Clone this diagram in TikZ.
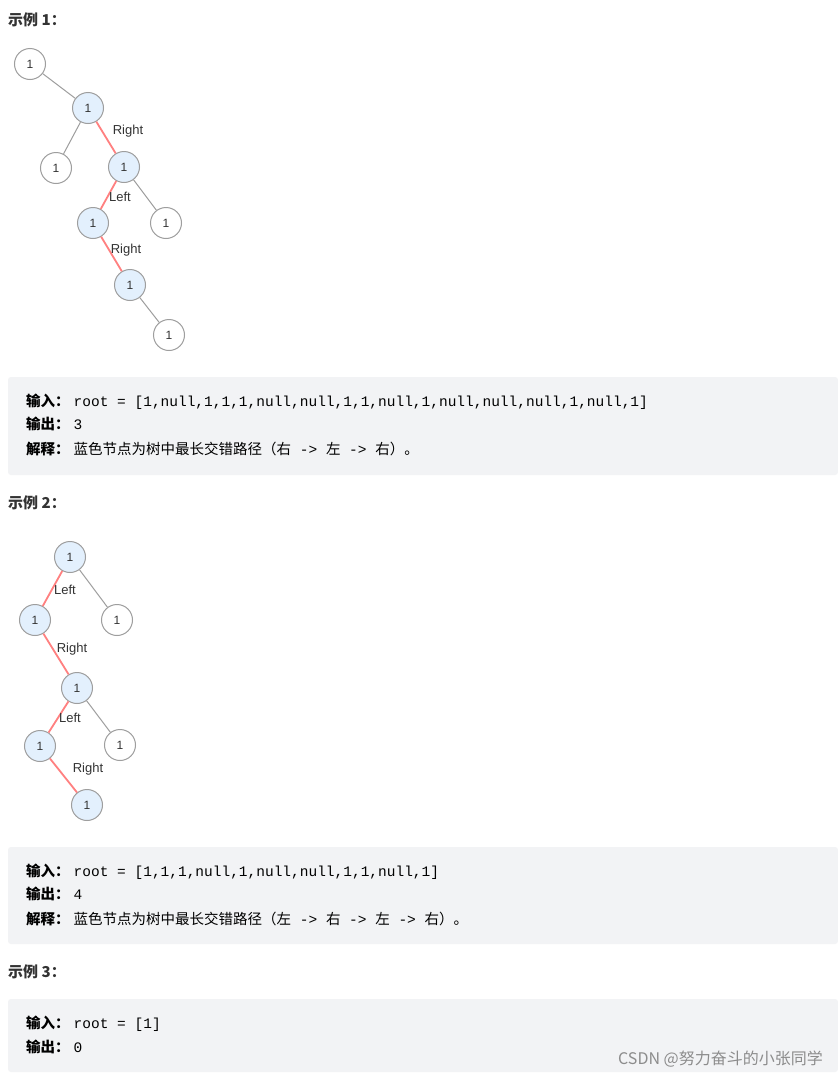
\documentclass[tikz,border=0pt]{standalone}
\usepackage{fontspec}
\setmainfont{Liberation Sans}
\newfontfamily\cjk{Noto Sans CJK SC}
\newfontfamily\mono{Liberation Mono}
\definecolor{nodeblue}{HTML}{E3F0FD}
\definecolor{nodeline}{HTML}{9E9E9E}
\definecolor{redge}{HTML}{FF8080}
\definecolor{boxbg}{HTML}{F2F3F5}
\definecolor{txt}{HTML}{333333}
\newcommand{\lbl}[1]{{\cjk\bfseries #1}\hspace{4pt}}
\begin{document}
\begin{tikzpicture}[x=1pt,y=-1pt,
  tn/.style={circle,draw=nodeline,line width=1pt,minimum size=31pt,inner sep=0pt,fill=white,font=\fontsize{12}{12}\selectfont,text=txt},
  bn/.style={tn,fill=nodeblue},
  ge/.style={draw=nodeline,line width=1pt},
  re/.style={draw=redge,line width=1.8pt},
  el/.style={font=\fontsize{13}{13}\selectfont,text=txt,inner sep=0pt},
  head/.style={anchor=base west,inner sep=0pt,font=\cjk\bfseries\fontsize{15}{15}\selectfont,text=txt},
  line/.style={anchor=base west,inner sep=0pt,font=\fontsize{14.5}{14.5}\selectfont,text=black},
  gbox/.style={fill=boxbg,rounded corners=3pt}]
\useasboundingbox (0,0) rectangle (838,1079);
\fill[white] (0,0) rectangle (838,1079);

% Example 1
\node[head] (h1) at (8,25) {示例 1：};
\node[tn] (a) at (30,64) {1};
\node[bn] (b) at (88,108) {1};
\node[tn] (c) at (56,168) {1};
\node[bn] (d) at (124,167) {1};
\node[bn] (e) at (93,223) {1};
\node[tn] (f) at (166,223) {1};
\node[bn] (g) at (130,285) {1};
\node[tn] (hh) at (169,335) {1};
\draw[ge] (a) -- (b);
\draw[ge] (b) -- (c);
\draw[re] (b) -- (d);
\draw[re] (d) -- (e);
\draw[ge] (d) -- (f);
\draw[re] (e) -- (g);
\draw[ge] (g) -- (hh);
\node[el] (l1) at (128,131) {Right};
\node[el] (l2) at (120,197) {Left};
\node[el] (l3) at (126,250) {Right};

\fill[gbox] (8,377) rectangle (838,475);
\node[line] (t11) at (26,406) {\lbl{输入：}{\mono root = [1,null,1,1,1,null,null,1,1,null,1,null,null,null,1,null,1]}};
\node[line] (t12) at (26,429) {\lbl{输出：}{\mono 3}};
\node[line] (t13) at (26,454) {\lbl{解释：}{\cjk 蓝色节点为树中最长交错路径（右}{\mono\ ->\ }{\cjk 左}{\mono\ ->\ }{\cjk 右）。}};

% Example 2
\node[head] (h2) at (8,508) {示例 2：};
\node[bn] (r) at (70,557) {1};
\node[bn] (p) at (35,620) {1};
\node[tn] (q) at (117,620) {1};
\node[bn] (n) at (77,688) {1};
\node[bn] (m) at (40,746) {1};
\node[tn] (k) at (120,745) {1};
\node[bn] (j) at (87,805) {1};
\draw[re] (r) -- (p);
\draw[ge] (r) -- (q);
\draw[re] (p) -- (n);
\draw[re] (n) -- (m);
\draw[ge] (n) -- (k);
\draw[re] (m) -- (j);
\node[el] (m1) at (65,590) {Left};
\node[el] (m2) at (72,649) {Right};
\node[el] (m3) at (70,718) {Left};
\node[el] (m4) at (88,769) {Right};

\fill[gbox] (8,847) rectangle (838,944);
\node[line] (t21) at (26,876) {\lbl{输入：}{\mono root = [1,1,1,null,1,null,null,1,1,null,1]}};
\node[line] (t22) at (26,899) {\lbl{输出：}{\mono 4}};
\node[line] (t23) at (26,924) {\lbl{解释：}{\cjk 蓝色节点为树中最长交错路径（左}{\mono\ ->\ }{\cjk 右}{\mono\ ->\ }{\cjk 左}{\mono\ ->\ }{\cjk 右）。}};

% Example 3
\node[head] (h3) at (8,977) {示例 3：};
\fill[gbox] (8,999) rectangle (838,1072);
\node[line] (t31) at (26,1028) {\lbl{输入：}{\mono root = [1]}};
\node[line] (t32) at (26,1052) {\lbl{输出：}{\mono 0}};
\node[anchor=base east,inner sep=0pt,text=black!45,font=\cjk\fontsize{16}{16}\selectfont] (wm) at (823,1064) {CSDN @努力奋斗的小张同学};
\end{tikzpicture}
\end{document}
